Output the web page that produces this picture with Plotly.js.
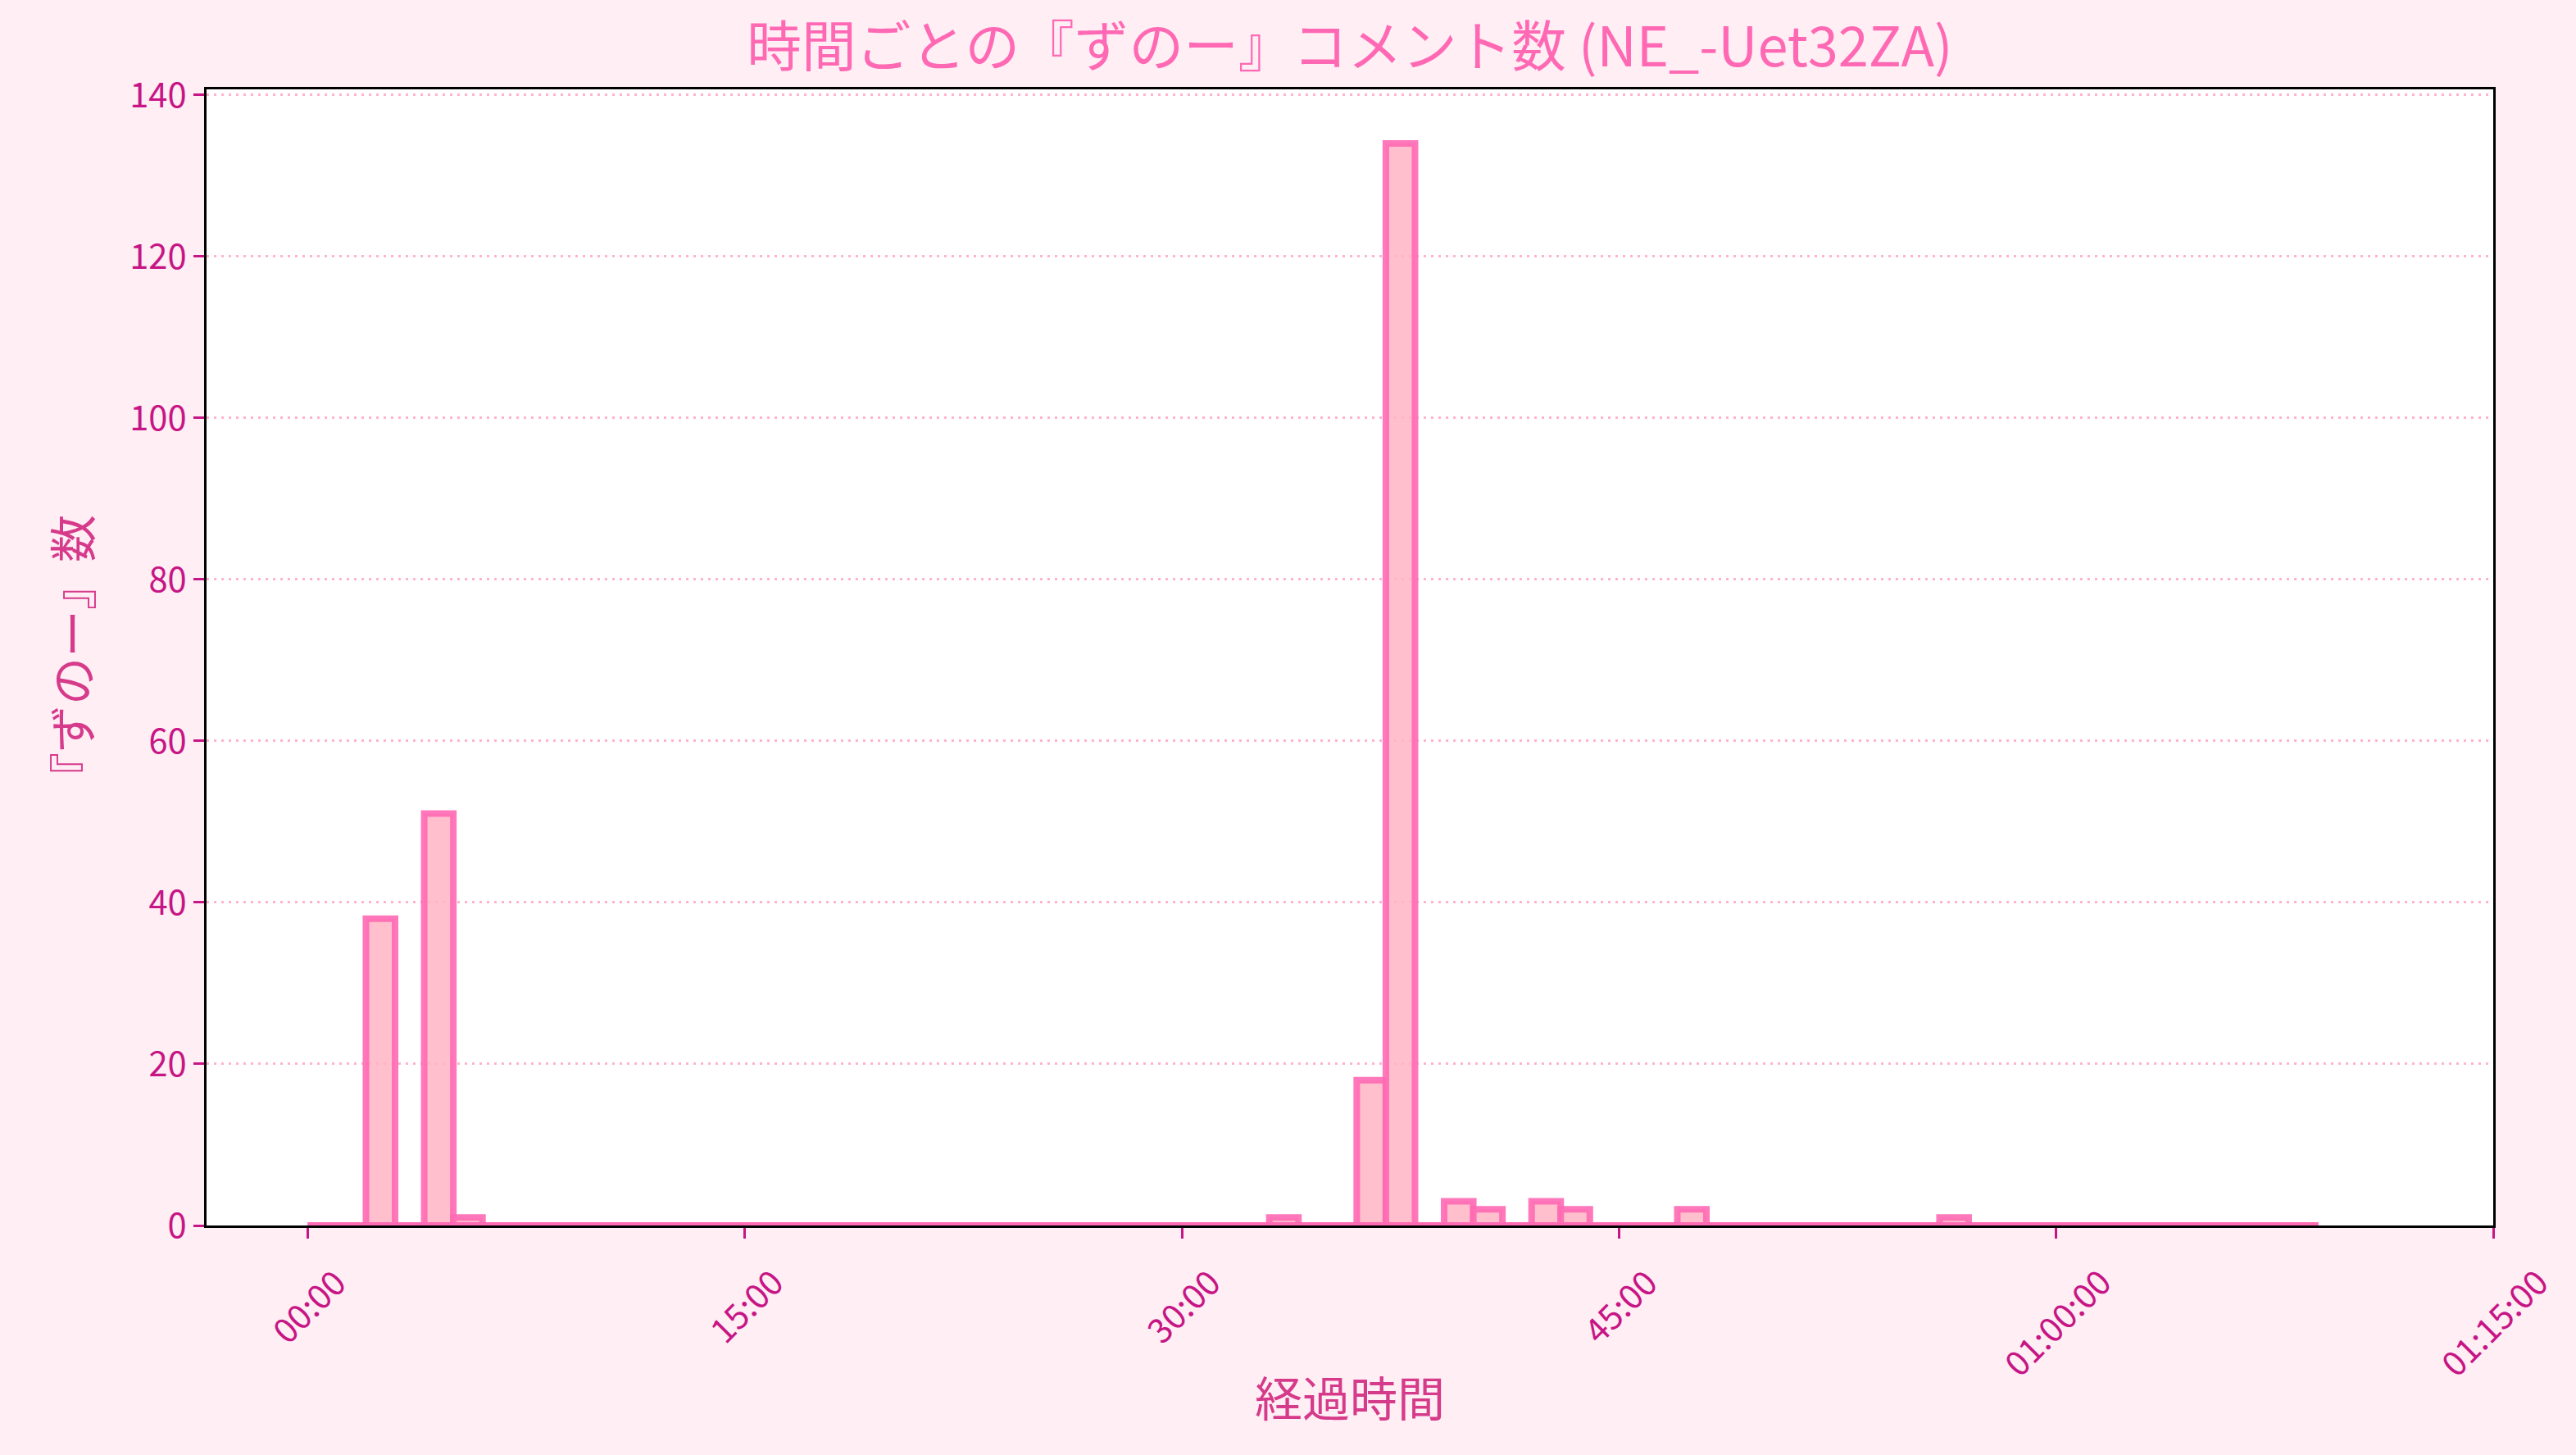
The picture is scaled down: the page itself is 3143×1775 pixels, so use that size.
<!DOCTYPE html>
<html>
<head>
<meta charset="utf-8">
<script src="https://cdn.plot.ly/plotly-3.0.1.min.js"></script>
<style>html,body{margin:0;padding:0;background:#FFEEF4;}</style>
</head>
<body>
<div id="chart" style="width:3143px;height:1775px;"></div>
<script>
// Start of each 1-minute bin (minutes since stream start)
const binStart = [0,1,2,3,4,5,6,7,8,9,10,11,12,13,14,15,16,17,18,19,20,21,22,23,24,25,26,27,28,29,30,31,32,33,34,35,36,37,38,39,40,41,42,43,44,45,46,47,48,49,50,51,52,53,54,55,56,57,58,59,60,61,62,63,64,65,66,67,68];
// 『ずのー』 comment counts per bin
const counts = [0,0,38,0,51,1,0,0,0,0,0,0,0,0,0,0,0,0,0,0,0,0,0,0,0,0,0,0,0,0,0,0,0,1,0,0,18,134,0,3,2,0,3,2,0,0,0,2,0,0,0,0,0,0,0,0,1,0,0,0,0,0,0,0,0,0,0,0,0];
const binWidth = 1;
// x-axis ticks (minutes) and labels
const tickVals = [0,15,30,45,60,75];
const tickLabels = ['00:00','15:00','30:00','45:00','01:00:00','01:15:00'];
const yTickVals = [0,20,40,60,80,100,120,140];

const FONT = '"Noto Sans CJK JP", "Noto Sans", sans-serif';
const TICKCOL = '#C71585';
const LABELCOL = '#D63A8A';
const EDGE = 'rgba(255,105,180,0.9)';
const FILL = 'rgba(255,180,196,0.85)';

const barTrace = {
  type: 'bar',
  x: binStart,
  y: counts,
  width: binWidth,
  offset: 0,
  marker: {color: FILL, line: {color: EDGE, width: 8}},
  hoverinfo: 'x+y',
  showlegend: false
};
// baseline strokes of the empty bins
const lastEdge = binStart[binStart.length - 1] + binWidth;
const baseTrace = {
  type: 'scatter',
  mode: 'lines',
  x: [binStart[0], lastEdge],
  y: [0, 0],
  line: {color: EDGE, width: 8},
  hoverinfo: 'skip',
  showlegend: false
};

const annotations = tickVals.map((v, i) => ({
  x: v, xref: 'x', y: 0, yref: 'paper',
  yanchor: 'top', xanchor: 'center', yshift: -36,
  text: tickLabels[i], showarrow: false, textangle: -45,
  font: {family: FONT, size: 41.7, color: TICKCOL}
}));

const layout = {
  width: 3143, height: 1775,
  paper_bgcolor: '#FFEEF4',
  plot_bgcolor: '#FFFFFF',
  margin: {l: 252, r: 101, t: 109, b: 280},
  font: {family: FONT, color: TICKCOL},
  title: {
    text: '時間ごとの『ずのー』コメント数 (NE_-Uet32ZA)',
    font: {family: FONT, size: 66.7, color: '#FF69B4'},
    x: 0.5, xref: 'paper', xanchor: 'center',
    y: 1 - 58/1775, yref: 'container', yanchor: 'middle'
  },
  xaxis: {
    range: [-3.47, 75],
    tickvals: tickVals,
    showticklabels: false,
    ticks: 'outside', ticklen: 13, tickwidth: 3, tickcolor: TICKCOL,
    showline: true, linecolor: '#000000', linewidth: 3, mirror: true,
    showgrid: false, zeroline: false,
    title: {text: '経過時間', font: {family: FONT, size: 58, color: LABELCOL}, standoff: 178},
    automargin: false
  },
  yaxis: {
    range: [0, 140.7],
    tickvals: yTickVals,
    ticks: 'outside', ticklen: 13, tickwidth: 3, tickcolor: TICKCOL,
    tickfont: {family: FONT, size: 41.7, color: TICKCOL},
    showline: true, linecolor: '#000000', linewidth: 3, mirror: true,
    showgrid: true, gridcolor: '#FFB3D1', gridwidth: 3, griddash: '3px,6px',
    zeroline: false,
    title: {text: '『ずのー』数', font: {family: FONT, size: 58, color: LABELCOL}, standoff: 28},
    automargin: false
  },
  annotations: annotations,
  bargap: 0
};

Plotly.newPlot('chart', [barTrace, baseTrace], layout, {displayModeBar: false, staticPlot: true});
</script>
</body>
</html>
